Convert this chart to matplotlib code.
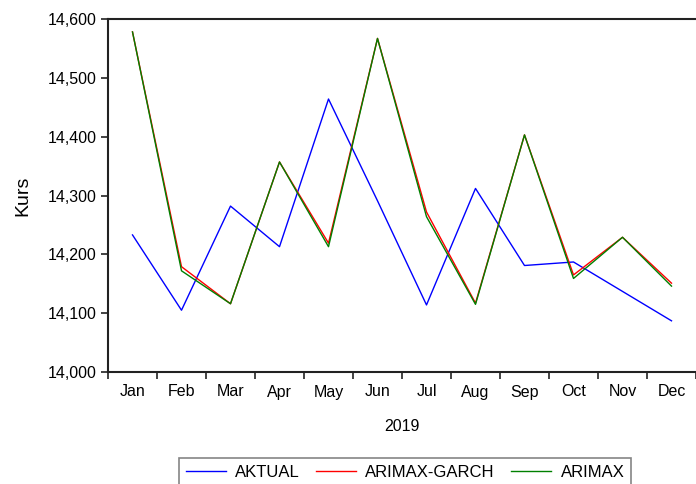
import matplotlib
matplotlib.use("Agg")
import matplotlib.pyplot as plt
from matplotlib.ticker import FixedLocator, FuncFormatter

months = ["Jan", "Feb", "Mar", "Apr", "May", "Jun", "Jul", "Aug", "Sep", "Oct", "Nov", "Dec"]
aktual = [14233, 14105, 14282, 14213, 14464, 14291, 14114, 14312, 14181, 14187, 14137, 14087]
arimax_garch = [14578, 14179, 14116, 14357, 14219, 14567, 14272, 14117, 14403, 14165, 14229, 14151]
arimax = [14578, 14172, 14116, 14357, 14213, 14567, 14264, 14115, 14403, 14159, 14229, 14146]
yticks = [14000, 14100, 14200, 14300, 14400, 14500, 14600]

plt.rcParams['font.family'] = ['Liberation Sans', 'DejaVu Sans']

W, H = 696, 484
fig = plt.figure(figsize=(W / 100, H / 100), dpi=100)
ax = fig.add_axes([108 / W, 1 - 372 / H, (696 - 108) / W, (372 - 19) / H])

x = list(range(len(months)))
ax.plot(x, aktual, color='#0000ff', lw=1.0, label='AKTUAL')
ax.plot(x, arimax_garch, color='#ff0000', lw=1.0, label='ARIMAX-GARCH')
ax.plot(x, arimax, color='#008000', lw=1.0, label='ARIMAX')

ax.set_xlim(-0.5, len(months) - 0.5)
ax.set_ylim(14000, 14600)
ax.set_yticks(yticks)
ax.yaxis.set_major_formatter(FuncFormatter(lambda v, p: f"{int(v):,}"))

ax.set_xticks(x)
ax.set_xticklabels(months)
ax.xaxis.set_minor_locator(FixedLocator([i - 0.5 for i in range(len(months) + 1)]))
ax.tick_params(axis='x', which='major', length=0, pad=9, labelsize=11.5)
ax.tick_params(axis='x', which='minor', length=5, width=1.2, direction='out', color='#222222')
ax.tick_params(axis='y', which='major', length=5, width=1.2, direction='out', color='#222222', labelsize=11.5, pad=3)

for s in ['left', 'bottom', 'top']:
    ax.spines[s].set_linewidth(1.5)
    ax.spines[s].set_color('#222222')
ax.spines['right'].set_visible(False)

ax.set_ylabel('Kurs', fontsize=14, labelpad=12)
ax.set_xlabel('2019', fontsize=11.5, labelpad=14)

leg = fig.legend(loc='upper center', bbox_to_anchor=(405 / W, 1 - 458 / H), ncol=3,
                 frameon=True, fancybox=False, fontsize=12, handlelength=2.4,
                 columnspacing=1.0, borderpad=0.4, handletextpad=0.55,
                 borderaxespad=0.0)
leg.get_frame().set_edgecolor('#666666')
leg.get_frame().set_linewidth(1.2)

fig.savefig('out.png', dpi=100)
